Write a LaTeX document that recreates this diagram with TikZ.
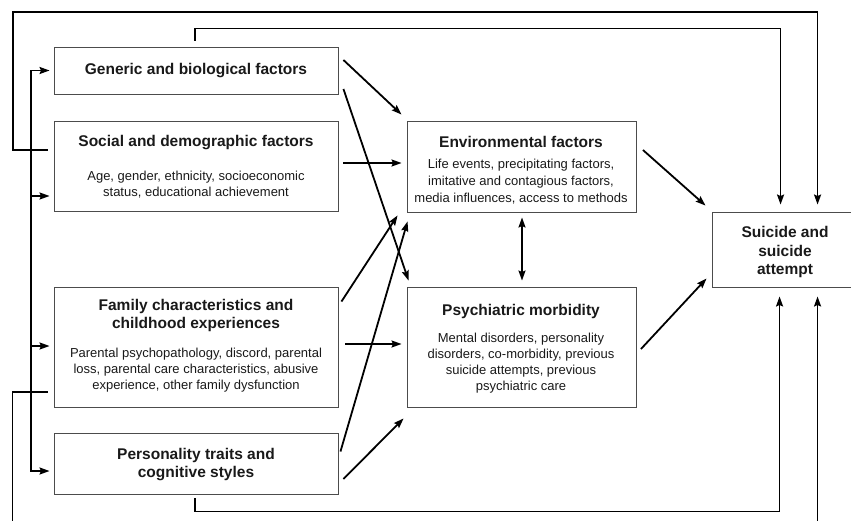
\documentclass[tikz,border=0pt]{standalone}
\usepackage{fontspec}
\setmainfont{Liberation Sans}
\usetikzlibrary{arrows.meta,calc}
\begin{document}
\begin{tikzpicture}[x=1pt,y=-1pt,
  mytip/.tip={Stealth[length=10pt,width=7pt,inset=1.5pt]},
  box/.style={draw=black!70, line width=0.9pt, inner sep=0},
  ttl/.style={font=\bfseries\fontsize{15.5}{18.5}\selectfont, align=center, inner sep=0, text=black!90},
  bdy/.style={font=\fontsize{13}{16}\selectfont, align=center, inner sep=0, text=black!90},
  ln/.style={line width=1.8pt},
  arr/.style={line width=1.8pt, -mytip},
  dbl/.style={line width=1.8pt, mytip-mytip}]
\path[use as bounding box] (0,0) rectangle (851,520);
\clip (0,0) rectangle (851,520);
% boxes
\node[box, minimum width=284, minimum height=47] (gen) at (196,70.5) {};
\node[box, minimum width=284, minimum height=90] (soc) at (196,166) {};
\node[box, minimum width=284, minimum height=120] (fam) at (196,347) {};
\node[box, minimum width=284, minimum height=61] (per) at (196,463.5) {};
\node[box, minimum width=229, minimum height=91] (env) at (521.5,166.5) {};
\node[box, minimum width=229, minimum height=120] (psy) at (521.5,347) {};
\node[box, minimum width=146, minimum height=75] (sui) at (785,249.5) {};
% texts
\node[ttl] (gent) at (196,70.5) {Generic and biological factors};
\node[ttl] (soct) at (196,142.5) {Social and demographic factors};
\node[bdy] (socb) at (196,184.5) {Age, gender, ethnicity, socioeconomic\\status, educational achievement};
\node[ttl] (envt) at (521,141.5) {Environmental factors};
\node[bdy, font=\fontsize{13}{17}\selectfont] (envb) at (521,181.5) {Life events, precipitating factors,\\imitative and contagious factors,\\media influences, access to methods};
\node[ttl] (psyt) at (521,311.5) {Psychiatric morbidity};
\node[bdy] (psyb) at (521,363.5) {Mental disorders, personality\\disorders, co-morbidity, previous\\suicide attempts, previous\\psychiatric care};
\node[ttl] (famt) at (196,315.5) {Family characteristics and\\childhood experiences};
\node[bdy] (famb) at (196,370) {Parental psychopathology, discord, parental\\loss, parental care characteristics, abusive\\experience, other family dysfunction};
\node[ttl] (pert) at (196,464.5) {Personality traits and\\cognitive styles};
\node[ttl] (suit) at (785,252) {Suicide and\\suicide\\attempt};
% inner arrows
\draw[arr] ($(gen.east)+(5,-10.5)$) -- ($(env.north west)+(-5,-6)$);
\draw[arr] ($(gen.east)+(5,18.5)$) -- ($(psy.north west)+(2,-6)$);
\draw[arr] ($(soc.east)+(5,-3)$) -- ($(env.west)+(-5,-3.5)$);
\draw[arr] ($(fam.north east)+(3,15)$) -- ($(env.south west)+(-9,3)$);
\draw[arr] ($(per.north east)+(2,19)$) -- ($(env.south west)+(1,9)$);
\draw[arr] ($(fam.east)+(7,-3)$) -- ($(psy.west)+(-5,-3)$);
\draw[arr] ($(per.east)+(5,15.5)$) -- ($(psy.south west)+(-3,11)$);
\draw[dbl] ($(env.south)+(0.5,5)$) -- ($(psy.north)+(0.5,-6)$);
\draw[arr] ($(env.east)+(6.5,-16.5)$) -- ($(sui.north west)+(-6,-6)$);
\draw[arr] ($(psy.east)+(4.5,2)$) -- ($(sui.south west)+(-5,-9)$);
% feedback lines
\coordinate (tl) at (13,12);
\draw[arr] ($(soc.west)+(-6,-16)$) -| (tl) -| ($(sui.north west)+(106,-7)$);
\draw[arr] ($(gen.north)+(-1,-6)$) -- ($(gen.north)+(-1,-18)$) -| ($(sui.north west)+(69,-7)$);
\coordinate (bb) at (31,471);
\draw[dbl] ($(gen.west)+(-4,0)$) -| (bb) -- ($(per.west)+(-4,7.5)$);
\draw[arr] ($(soc.west)+(-23,30)$) -- ($(soc.west)+(-4,30)$);
\draw[arr] ($(fam.west)+(-23,-1)$) -- ($(fam.west)+(-4,-1)$);
\draw[ln] ($(fam.west)+(-6,45)$) -| ($(fam.west)+(-41,190)$);
\draw[arr] ($(per.south)+(-1,4)$) -- ($(per.south)+(-1,17)$) -| ($(sui.south west)+(68,9)$);
\draw[arr] ($(sui.south west)+(106,243)$) -- ($(sui.south west)+(106,9)$);
\end{tikzpicture}
\end{document}
